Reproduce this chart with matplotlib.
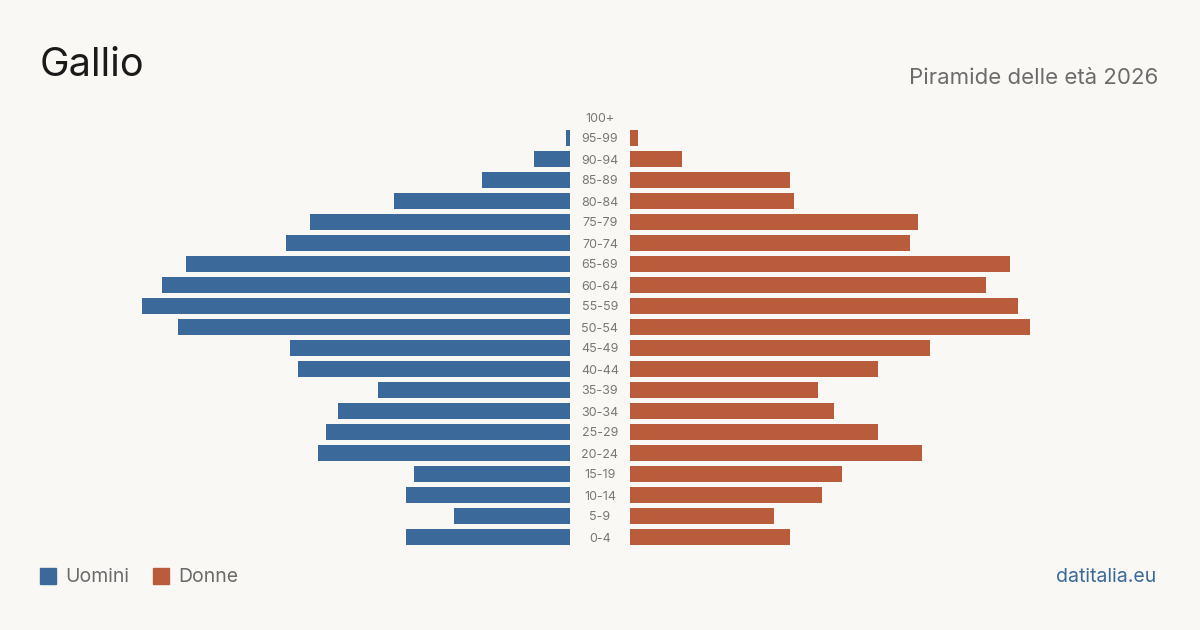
import matplotlib.pyplot as plt
from matplotlib.patches import Rectangle

plt.rcParams['font.family'] = ['Inter', 'DejaVu Sans']

# classi di eta, dal basso verso l'alto
eta = ["0-4", "5-9", "10-14", "15-19", "20-24", "25-29", "30-34", "35-39",
       "40-44", "45-49", "50-54", "55-59", "60-64", "65-69", "70-74", "75-79",
       "80-84", "85-89", "90-94", "95-99", "100+"]
uomini = [41, 29, 41, 39, 63, 61, 58, 48, 68, 70, 98, 107, 102, 96, 71, 65,
          44, 22, 9, 1, 0]
donne = [40, 36, 48, 53, 73, 62, 51, 47, 62, 75, 100, 97, 89, 95, 70, 72,
         41, 40, 13, 2, 0]

blu = "#3b6a9a"
arancio = "#b95c3c"
sfondo = "#f9f8f4"

W, H = 1200, 630
fig = plt.figure(figsize=(12, 6.3), dpi=100, facecolor=sfondo)

# px per persona
scala = 4.0
y0 = (H - 547.5) / H
h = 441 / H
ax_l = fig.add_axes([40 / W, y0, 530 / W, h])
ax_r = fig.add_axes([630 / W, y0, 530 / W, h])

pos = list(range(len(eta)))
ax_l.barh(pos, uomini, height=0.8, color=blu)
ax_r.barh(pos, donne, height=0.8, color=arancio)
ax_l.set_xlim(530 / scala, 0)
ax_r.set_xlim(0, 530 / scala)
for ax in (ax_l, ax_r):
    ax.set_ylim(-0.5, len(eta) - 0.5)
    ax.axis("off")

# etichette centrali
for i, e in enumerate(eta):
    fig.text(600 / W, y0 + (i + 0.5) / len(eta) * h - 1.5 / H, e,
             ha="center", va="center", fontsize=9, color="#777777")

fig.text(40 / W, 1 - 66 / H, "Gallio", fontsize=28.5, color="#1a1a1a",
         ha="left", va="center")
fig.text(1158 / W, 1 - 78 / H, "Piramide delle età 2026", fontsize=16,
         color="#6b6b6b", ha="right", va="center")

# legenda
fig.patches.append(Rectangle((40 / W, 1 - 584 / H), 16 / W, 16 / H,
                             transform=fig.transFigure, color=blu))
fig.text(65 / W, 1 - 577.5 / H, "Uomini", fontsize=14, color="#6b6b6b",
         ha="left", va="center")
fig.patches.append(Rectangle((153 / W, 1 - 584 / H), 16 / W, 16 / H,
                             transform=fig.transFigure, color=arancio))
fig.text(178 / W, 1 - 577.5 / H, "Donne", fontsize=14, color="#6b6b6b",
         ha="left", va="center")

fig.text(1156 / W, 1 - 577.5 / H, "datitalia.eu", fontsize=14, color=blu,
         ha="right", va="center")

fig.savefig("out.png", dpi=100, facecolor=sfondo)
